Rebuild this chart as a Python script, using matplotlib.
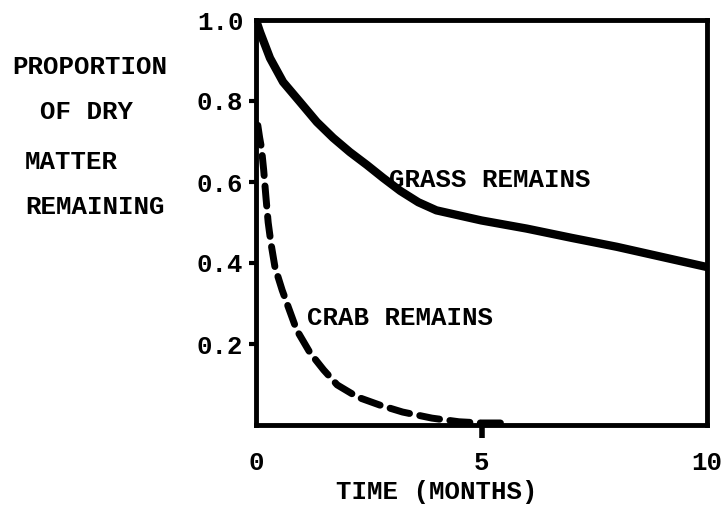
import matplotlib
matplotlib.use("Agg")
import matplotlib.pyplot as plt

# Data
grass_t = [0, 0.09, 0.31, 0.6, 0.98, 1.35, 1.71, 2.08, 2.46, 2.82, 3.2, 3.6, 4.0,
           5.0, 6.0, 7.0, 8.0, 9.0, 10.0]
grass_v = [1.0, 0.97, 0.906, 0.847, 0.797, 0.748, 0.709, 0.674, 0.642, 0.61, 0.578,
           0.55, 0.53, 0.505, 0.485, 0.462, 0.44, 0.415, 0.39]

crab_t = [0.04, 0.08, 0.12, 0.17, 0.22, 0.27, 0.33, 0.42, 0.58, 0.72, 0.9, 1.2, 1.5,
          1.8, 2.25, 2.75, 3.25, 3.9, 4.5, 5.0, 5.6]
crab_v = [0.74, 0.71, 0.685, 0.63, 0.563, 0.50, 0.45, 0.39, 0.333, 0.29, 0.235, 0.178,
          0.136, 0.099, 0.069, 0.049, 0.032, 0.017, 0.008, 0.005, 0.005]

x_ticks = [0, 5, 10]
x_labels = ["0", "5", "10"]
y_ticks = [0.2, 0.4, 0.6, 0.8, 1.0]
y_labels = ["0.2", "0.4", "0.6", "0.8", "1.0"]

FONT = "Liberation Mono"
FS = 18.5

fig = plt.figure(figsize=(7.26, 5.08), dpi=100)
ax = fig.add_axes([256 / 726, 1 - 425 / 508, (707 - 256) / 726, (425 - 20) / 508])

ax.plot(grass_t, grass_v, color="black", lw=6, solid_capstyle="round",
        solid_joinstyle="round")
ax.plot(crab_t, crab_v, color="black", lw=5, linestyle=(0, (2.9, 1.5)),
        dash_capstyle="round", dash_joinstyle="round")

ax.set_xlim(0, 10)
ax.set_ylim(0, 1.0)

for s in ax.spines.values():
    s.set_linewidth(3.5)
    s.set_color("black")
    s.set_capstyle("projecting")

ax.set_xticks(x_ticks)
ax.set_xticklabels(x_labels, fontfamily=FONT, fontweight="bold", fontsize=FS)
ax.set_yticks(y_ticks)
ax.set_yticklabels(y_labels, fontfamily=FONT, fontweight="bold", fontsize=FS)
ax.tick_params(axis="x", direction="out", length=9, width=4, pad=9.5)
ax.tick_params(axis="y", direction="out", length=5, width=3, pad=4)
xt = ax.xaxis.get_major_ticks()
xt[0].tick1line.set_visible(False)
xt[2].tick1line.set_visible(False)
yt = ax.yaxis.get_major_ticks()
yt[-1].tick1line.set_visible(False)

ax.text(2.95, 0.605, "GRASS REMAINS", fontfamily=FONT, fontweight="bold", fontsize=FS,
        ha="left", va="center")
ax.text(1.13, 0.265, "CRAB REMAINS", fontfamily=FONT, fontweight="bold", fontsize=FS,
        ha="left", va="center")

fig.text(437 / 726, 1 - 492 / 508, "TIME (MONTHS)", fontfamily=FONT, fontweight="bold",
         fontsize=FS, ha="center", va="center")

ylab = [("PROPORTION", 12, 67), ("OF DRY", 40, 112), ("MATTER", 25, 162),
        ("REMAINING", 25, 207)]
for txt, x, y in ylab:
    fig.text(x / 726, 1 - y / 508, txt, fontfamily=FONT, fontweight="bold",
             fontsize=FS, ha="left", va="center")

fig.savefig("out.png", dpi=100, facecolor="white")
